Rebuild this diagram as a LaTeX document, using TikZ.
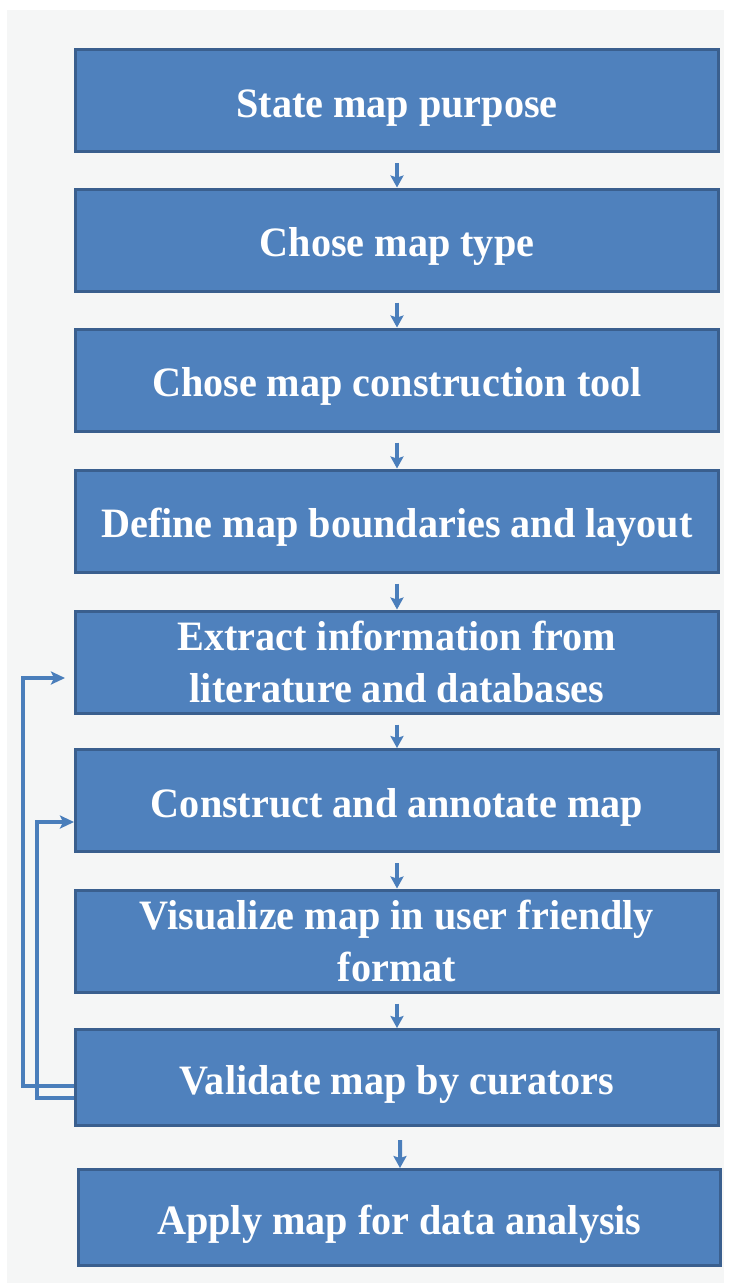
\documentclass[tikz,border=0pt]{standalone}
\usepackage{fontspec}
\setmainfont{Liberation Serif}[FakeStretch=0.96]
\usetikzlibrary{calc,arrows.meta}
\definecolor{boxfill}{HTML}{4F81BD}
\definecolor{boxline}{HTML}{3A5F8E}
\definecolor{arrowc}{HTML}{4A7EBB}
\definecolor{bggray}{HTML}{F5F6F6}
\tikzset{
  x=1bp, y=-1bp,
  stepbox/.style={draw=boxline, fill=boxfill, line width=3bp, inner sep=0pt,
    minimum width=643bp, minimum height=102bp, text=white, align=center,
    font=\bfseries\fontsize{42}{52}\selectfont},
  oneline/.style={text height=33bp, text depth=0pt},
  down/.style={draw=arrowc, line width=4bp, -{Stealth[length=12bp,width=13bp,inset=2bp]}},
  fb/.style={draw=arrowc, line width=3.5bp, -{Stealth[length=14bp,width=13bp,inset=3bp]}}
}
\begin{document}
\begin{tikzpicture}
\useasboundingbox (0,0) rectangle (732,1285);
\fill[white] (0,0) rectangle (732,1285);
\fill[bggray] (7,10) rectangle (724,1283);
\node[stepbox, oneline] (s1) at (397,100.5) {State map purpose};
\node[stepbox, oneline] (s2) at (397,240) {Chose map type};
\node[stepbox, oneline] (s3) at (397,380) {Chose map construction tool};
\node[stepbox, oneline] (s4) at (397,521) {Define map boundaries and layout};
\node[stepbox] (s5) at (397,662) {Extract information from\\literature and databases};
\node[stepbox, oneline] (s6) at (397,800.5) {Construct and annotate map};
\node[stepbox] (s7) at (397,941) {Visualize map in user friendly\\format};
\node[stepbox, oneline, minimum height=96bp] (s8) at (397,1077.5) {Validate map by curators};
\node[stepbox, oneline, minimum width=642bp, minimum height=96bp] (s9) at (399.5,1217.5) {Apply map for data analysis};
\foreach \a/\b in {s1/s2,s2/s3,s3/s4,s4/s5,s5/s6,s6/s7,s7/s8}
  \draw[down] ($(\a.south)+(0,10)$) -- (\b.north);
\draw[down] ($(s8.south)+(3,13)$) -- ($(s9.north)+(0.5,0)$);
\draw[fb] ($(s8.west)+(0,8.5)$) -- ++(-51,0) |- ($(s5.west)+(-9,16)$);
\draw[fb] ($(s8.west)+(0,20.5)$) -- ++(-37,0) |- ($(s6.west)+(0,21.5)$);
\end{tikzpicture}
\end{document}
